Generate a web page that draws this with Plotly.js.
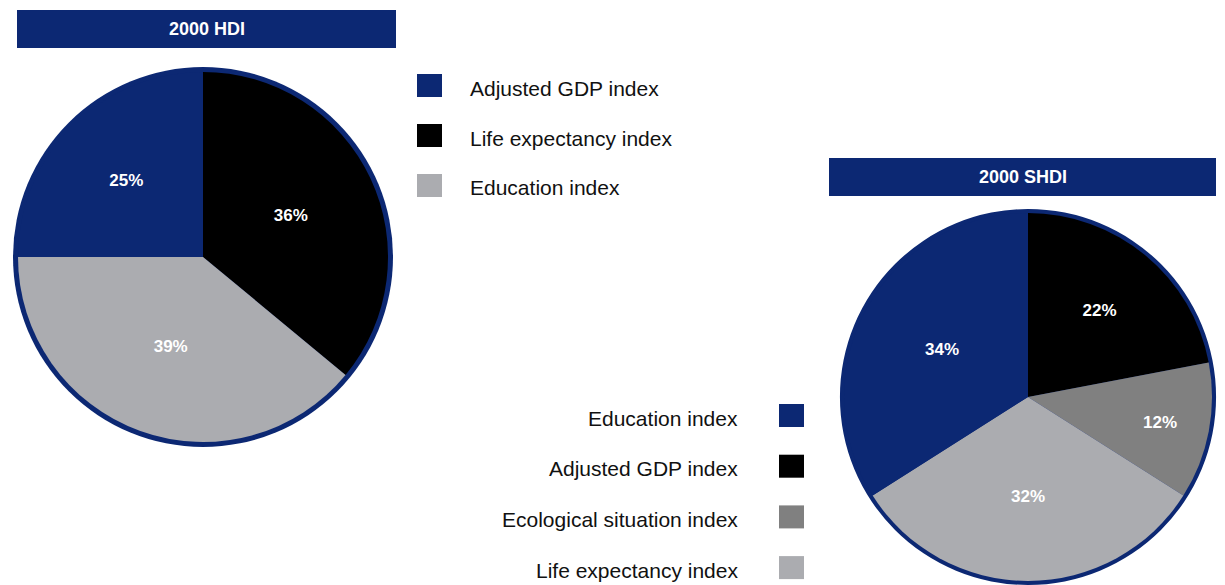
<!DOCTYPE html>
<html>
<head>
<meta charset="utf-8">
<script src="https://cdn.plot.ly/plotly-3.0.1.min.js"></script>
<style>
  html, body { margin: 0; padding: 0; background: #ffffff; overflow: hidden; }
  #chart { width: 1225px; height: 585px; }
</style>
</head>
<body>
<div id="chart"></div>
<script>
// ---- Data ----
const hdiTitle = '2000 HDI';
const hdiLabels = ['Life expectancy index', 'Education index', 'Adjusted GDP index'];
const hdiValues = [36, 39, 25];
const hdiLegendOrder = ['Adjusted GDP index', 'Life expectancy index', 'Education index'];

const shdiTitle = '2000 SHDI';
const shdiLabels = ['Adjusted GDP index', 'Ecological situation index', 'Life expectancy index', 'Education index'];
const shdiValues = [22, 12, 32, 34];
const shdiLegendOrder = ['Education index', 'Adjusted GDP index', 'Ecological situation index', 'Life expectancy index'];

// ---- Styles ----
const NAVY = '#0C2873';
const hdiColorMap = {
  'Adjusted GDP index': NAVY,
  'Life expectancy index': '#000000',
  'Education index': '#ABACB0'
};
const shdiColorMap = {
  'Education index': NAVY,
  'Adjusted GDP index': '#000000',
  'Ecological situation index': '#808080',
  'Life expectancy index': '#ABACB0'
};

const W = 1225, H = 585;
const fx = v => v / W;
const fy = v => 1 - v / H;

function domainFor(cx, cy, r) {
  return { x: [Math.max(0, fx(cx - r)), Math.min(1, fx(cx + r))],
           y: [Math.max(0, fy(cy + r)), Math.min(1, fy(cy - r))] };
}

const FONT = 'Arial, "Liberation Sans", Helvetica, sans-serif';

function pieTraces(labels, values, colorMap, cx, cy, rIn, rOut) {
  return [
    { type: 'pie', values: [1], labels: ['border'], sort: false,
      marker: { colors: [NAVY], line: { width: 0 } },
      textinfo: 'none', hoverinfo: 'skip', showlegend: false,
      domain: domainFor(cx, cy, rOut) },
    { type: 'pie', values: values, labels: labels, sort: false,
      direction: 'clockwise', rotation: 0,
      marker: { colors: labels.map(l => colorMap[l]), line: { width: 0 } },
      texttemplate: '%{value}%', textposition: 'inside',
      insidetextorientation: 'horizontal',
      insidetextfont: { family: FONT, size: 17, color: '#ffffff', weight: 'bold' },
      hoverinfo: 'label+percent', showlegend: false,
      domain: domainFor(cx, cy, rIn) }
  ];
}

const data = [
  ...pieTraces(hdiLabels, hdiValues, hdiColorMap, 203, 257, 185, 190),
  ...pieTraces(shdiLabels, shdiValues, shdiColorMap, 1028, 397, 184, 188)
];

const shapes = [];
const annotations = [];

function titleBox(text, x0, y0, x1, y1) {
  shapes.push({ type: 'rect', xref: 'paper', yref: 'paper',
    x0: fx(x0), x1: fx(x1), y0: fy(y1), y1: fy(y0),
    fillcolor: NAVY, line: { width: 0 }, layer: 'above' });
  annotations.push({ xref: 'paper', yref: 'paper', x: fx((x0 + x1) / 2), y: fy((y0 + y1) / 2),
    xanchor: 'center', yanchor: 'middle', showarrow: false, text: '<b>' + text + '</b>',
    font: { family: FONT, size: 18, color: '#ffffff' } });
}
titleBox(hdiTitle, 17, 10, 396, 48);
titleBox(shdiTitle, 829, 158, 1216, 196);

// Left legend: square then text
hdiLegendOrder.forEach((lab, i) => {
  const top = 74 + i * 50;
  shapes.push({ type: 'rect', xref: 'paper', yref: 'paper',
    x0: fx(417), x1: fx(442), y0: fy(top + 23), y1: fy(top),
    fillcolor: hdiColorMap[lab], line: { width: 0 } });
  annotations.push({ xref: 'paper', yref: 'paper', x: fx(468), y: fy(top + 14),
    xanchor: 'left', yanchor: 'middle', showarrow: false, text: lab,
    font: { family: FONT, size: 21, color: '#111111' } });
});

// Right legend: text then square
shdiLegendOrder.forEach((lab, i) => {
  const top = 404 + i * 50.7;
  shapes.push({ type: 'rect', xref: 'paper', yref: 'paper',
    x0: fx(779), x1: fx(804), y0: fy(top + 23), y1: fy(top),
    fillcolor: shdiColorMap[lab], line: { width: 0 } });
  annotations.push({ xref: 'paper', yref: 'paper', x: fx(740), y: fy(top + 14),
    xanchor: 'right', yanchor: 'middle', showarrow: false, text: lab,
    font: { family: FONT, size: 21, color: '#111111' } });
});

const layout = {
  width: W, height: H,
  margin: { l: 0, r: 0, t: 0, b: 0, pad: 0 },
  paper_bgcolor: '#ffffff', plot_bgcolor: '#ffffff',
  showlegend: false,
  shapes: shapes,
  annotations: annotations,
  font: { family: FONT }
};

Plotly.newPlot('chart', data, layout, { displayModeBar: false, staticPlot: true });
</script>
</body>
</html>
